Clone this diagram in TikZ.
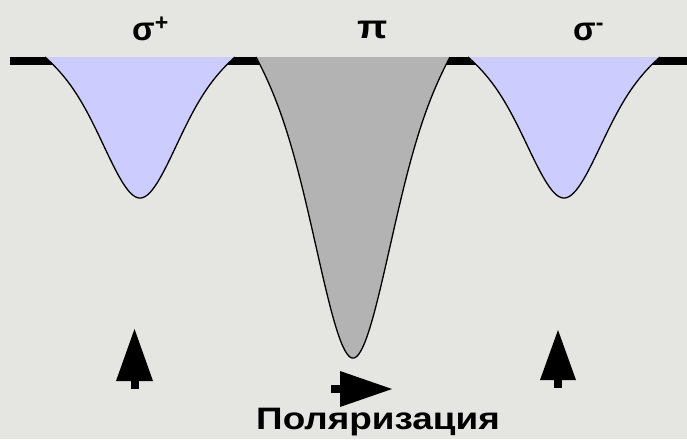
\documentclass[tikz,border=0pt]{standalone}
\usepackage{fontspec}
\usepackage{graphicx}
\setmainfont{Liberation Sans}
\definecolor{bgcol}{RGB}{229,229,225}
\definecolor{bluefill}{RGB}{204,204,255}
\definecolor{grayfill}{RGB}{179,179,179}
\tikzset{
  declare function={prof(\v)=0.5820*(exp(-3.6837*\v*\v)-0.0251)+0.5063*(1.01242-sqrt(\v*\v+0.02493));},
  outline/.style={draw=black, line width=1.3pt},
  lbl/.style={font=\fontsize{33}{33}\selectfont\bfseries, inner sep=0pt, anchor=base west},
  caption/.style={font=\fontsize{31}{31}\selectfont\bfseries, inner sep=0pt, anchor=base},
  arrowshape/.style={fill=black, draw=none}
}
\newcommand\mydip[4]{% centre, half width, depth, colour
  \fill[#4] plot[domain=-1:1, samples=161] ({#1+#2*\x}, {57+#3*prof(\x)}) -- cycle;
  \draw[outline] plot[domain=-1:1, samples=161, smooth] ({#1+#2*\x}, {57+#3*prof(\x)});
}
\begin{document}
\begin{tikzpicture}[x=1pt, y=-1pt]
  \fill[bgcol] (0,0) rectangle (687,439);
  \useasboundingbox (0,0) rectangle (687,439);
  % baseline
  \draw[line width=8pt] (10,61) -- (687,61);
  % dips
  \mydip{140}{95}{141}{bluefill}
  \mydip{353}{97}{301}{grayfill}
  \mydip{564}{96}{141}{bluefill}
  % labels
  \node[lbl] (sp) at (132,40) {σ\textsuperscript{+}};
  \node[lbl] (pi) at (357,38) {\scalebox{1.2}[1]{π}};
  \node[lbl] (sm) at (573,40) {σ\textsuperscript{-}};
  \node[caption] (pol) at (378,429) {\scalebox{1.19}[1]{Поляризация}};
  % arrows
  \fill[arrowshape] (131,380) rectangle (139,389);
  \fill[arrowshape] (116,381) -- (134.5,329) -- (153,381) -- cycle;
  \fill[arrowshape] (554,380) rectangle (562,388);
  \fill[arrowshape] (540,380) -- (558,330) -- (576,380) -- cycle;
  \fill[arrowshape] (331,385) rectangle (341,393);
  \fill[arrowshape] (340,371) -- (392,389) -- (340,407) -- cycle;
\end{tikzpicture}
\end{document}
